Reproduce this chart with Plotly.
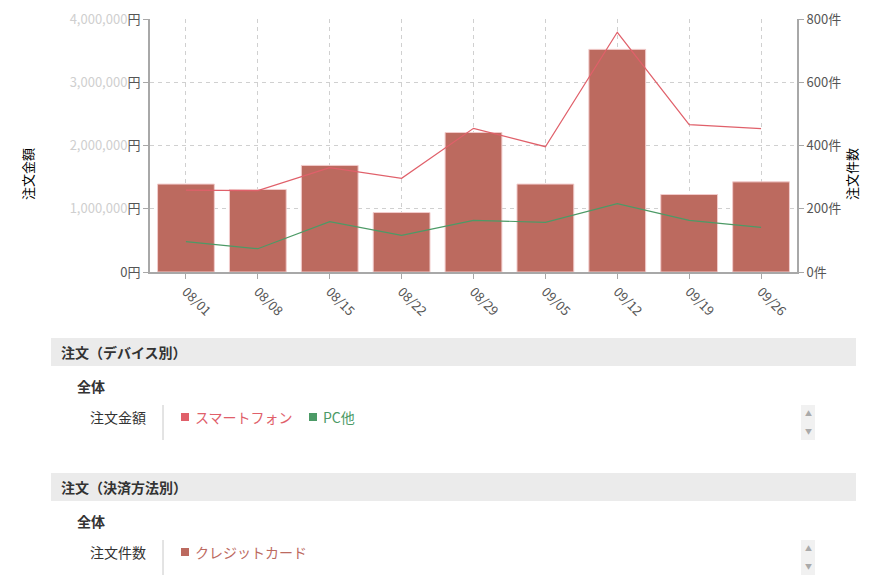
import plotly.graph_objects as go

W, H = 873, 582

categories = ["08/01", "08/08", "08/15", "08/22", "08/29", "09/05", "09/12", "09/19", "09/26"]
order_counts = [278, 261, 337, 188, 441, 278, 704, 245, 285]            # 注文件数 (件), bars
amount_smartphone = [1296000, 1286000, 1649000, 1481000, 2272000, 1981000, 3790000, 2329000, 2266000]
amount_pc = [479000, 368000, 795000, 580000, 817000, 786000, 1080000, 817000, 707000]
amount_tickvals = [0, 1000000, 2000000, 3000000, 4000000]
amount_ticktext = ["0円",
                   "<span style='color:#cfcfcf'>1,000,000</span>円",
                   "<span style='color:#cfcfcf'>2,000,000</span>円",
                   "<span style='color:#cfcfcf'>3,000,000</span>円",
                   "<span style='color:#cfcfcf'>4,000,000</span>円"]
count_tickvals = [0, 200, 400, 600, 800]
count_ticktext = ["0件", "200件", "400件", "600件", "800件"]

BAR = "#bc6a5f"
RED = "#e0606a"
GREEN = "#4c9a66"
FONT = "Noto Sans CJK JP"


def px(x):
    return x / W


def py(y):
    return 1 - y / H


fig = go.Figure()
fig.add_trace(go.Bar(x=categories, y=order_counts, yaxis="y", marker=dict(color=BAR, line=dict(color="#f2cccc", width=1)),
                     width=0.79, name="クレジットカード"))
fig.add_trace(go.Scatter(x=categories, y=amount_smartphone, yaxis="y2", mode="lines",
                         line=dict(color=RED, width=1.2), name="スマートフォン"))
fig.add_trace(go.Scatter(x=categories, y=amount_pc, yaxis="y2", mode="lines",
                         line=dict(color=GREEN, width=1.2), name="PC他"))

axis_common = dict(showline=True, linecolor="#a8a8a8", linewidth=2, ticks="outside", ticklen=5,
                   tickcolor="#a8a8a8", automargin=False,
                   tickfont=dict(family=FONT, size=13, color="#555"))
GRID = dict(gridcolor="#d0d0d0", griddash="4px,4px", gridwidth=1)

fig.update_layout(
    width=W, height=H, margin=dict(l=0, r=0, t=0, b=0, autoexpand=False),
    paper_bgcolor="white", plot_bgcolor="white", showlegend=False,
    font=dict(family=FONT),
    xaxis=dict(domain=[px(150), px(797)], type="category", range=[-0.5, 8.5], tickangle=45,
               showgrid=True, **GRID, **axis_common),
    yaxis=dict(side="right", range=[0, 800], tickvals=count_tickvals, ticktext=count_ticktext,
               domain=[py(272), py(19)], anchor="x", showgrid=True, **GRID,
               zeroline=False, **axis_common),
    yaxis2=dict(side="left", overlaying="y", range=[0, 4000000], tickvals=amount_tickvals,
                ticktext=amount_ticktext, showgrid=False, zeroline=False, anchor="x", **axis_common),
)

ann = []
shapes = []


def text(x, y, s, size=14, color="#333", xanchor="center", angle=0):
    ann.append(dict(x=px(x), y=py(y), xref="paper", yref="paper", xanchor=xanchor, yanchor="middle",
                    text=s, textangle=angle, showarrow=False, font=dict(family=FONT, size=size, color=color)))


text(27, 174, "注文金額", size=13, color="#000", angle=-90)
text(851, 174, "注文件数", size=13, color="#000", angle=-90)


def section(y0, title, label, items):
    shapes.append(dict(type="rect", xref="paper", yref="paper", x0=px(51), x1=px(856), y0=py(y0 + 28), y1=py(y0),
                       fillcolor="#ebebeb", line=dict(width=0), layer="below"))
    text(59, y0 + 14, "<b>" + title + "</b>", xanchor="left")
    text(75, y0 + 48, "<b>全体</b>", xanchor="left")
    ry = y0 + 79
    text(148, ry, label, xanchor="right")
    shapes.append(dict(type="line", xref="paper", yref="paper", x0=px(163), x1=px(163), y0=py(y0 + 67), y1=py(y0 + 102),
                       line=dict(color="#c8c8c8", width=1)))
    shapes.append(dict(type="rect", xref="paper", yref="paper", x0=px(801), x1=px(815), y0=py(y0 + 102), y1=py(y0 + 67),
                       fillcolor="#f1f1f1", line=dict(width=0)))
    text(808, y0 + 75, "▲", size=7, color="#aaa")
    text(808, y0 + 93, "▼", size=7, color="#aaa")
    for xs, s, color in items:
        shapes.append(dict(type="rect", xref="paper", yref="paper", x0=px(xs), x1=px(xs + 8), y0=py(ry + 4), y1=py(ry - 4),
                           fillcolor=color, line=dict(width=0)))
        text(xs + 12, ry, s, color=color, xanchor="left")


section(338, "注文（デバイス別）", "注文金額", [(181, "スマートフォン", RED), (309, "PC他", GREEN)])
section(473, "注文（決済方法別）", "注文件数", [(181, "クレジットカード", BAR)])

fig.update_layout(annotations=ann, shapes=shapes)
fig.write_html("out.html")
